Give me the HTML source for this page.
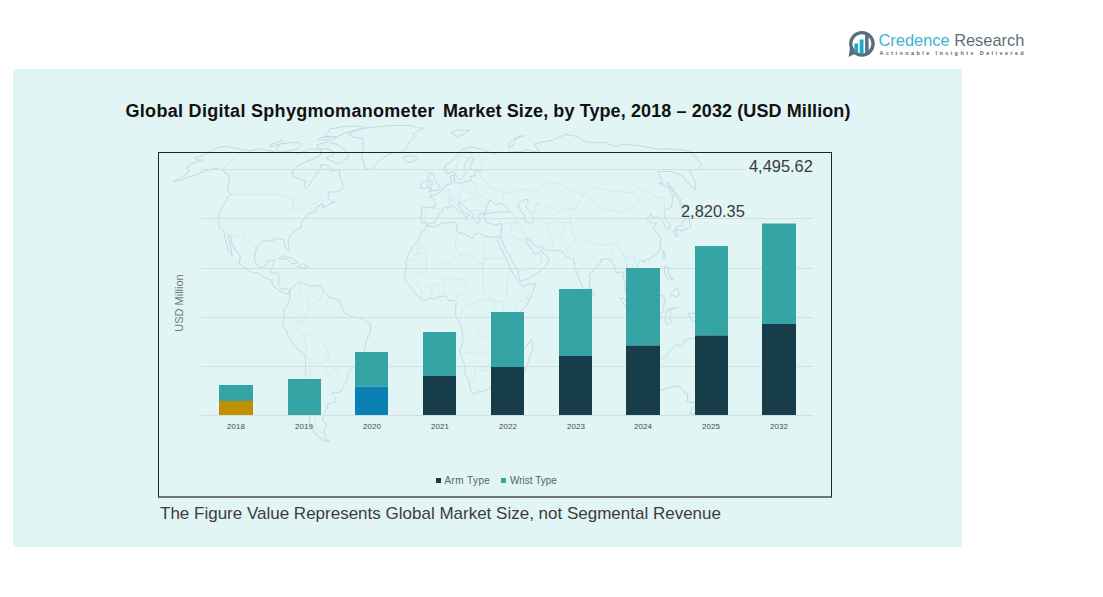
<!DOCTYPE html>
<html><head><meta charset="utf-8">
<style>
html,body{margin:0;padding:0;background:#fff;width:1103px;height:597px;overflow:hidden;position:relative;font-family:"Liberation Sans",sans-serif;}
.a{position:absolute;}
#panel{left:13px;top:69px;width:949px;height:478px;background:#E1F5F5;}
#box{left:158px;top:152px;width:672px;height:343px;border:1px solid #1e2626;border-bottom:2px solid #6E7575;}
.g{position:absolute;left:201px;width:612px;height:1px;background:#D4DFDF;}
.bar{position:absolute;width:34px;}
.t{background:#35A4A4;}
.d{background:#183D4A;}
.yr{position:absolute;top:422px;width:40px;text-align:center;font-size:8px;color:#484C4C;white-space:nowrap;}
.lbl{position:absolute;font-size:16.4px;color:#3A3A3A;white-space:nowrap;line-height:1;}
.tt{top:102px;font-size:18px;font-weight:bold;color:#111;white-space:nowrap;line-height:1;}
#foot{left:160px;top:505px;font-size:17px;color:#3C3C3C;white-space:nowrap;line-height:1;}
#ylab{left:179px;top:303px;font-size:11px;color:#737878;white-space:nowrap;line-height:1;transform:translate(-50%,-50%) rotate(-90deg);}
.leg{position:absolute;top:476px;font-size:10px;color:#5E6262;white-space:nowrap;line-height:1;}
.sq{position:absolute;top:478px;width:5px;height:5px;}
</style></head><body>
<div class="a" id="panel"></div>
<svg class="a" id="map" style="left:0;top:0" width="1103" height="597" viewBox="0 0 1103 597"><g fill="none" stroke-linejoin="round"><path stroke="#BDDCE5" stroke-width="1" d="M194.7 157.8L204.1 154.9L215.4 148.2L225.3 146.3L230.4 147.2L242.6 149.6L249.6 150.8L261.4 148.8L270.5 150.8L277.0 152.9L286.3 151.8L299.2 153.3L309.5 148.8L321.2 149.8L320.1 155.9L310.3 160.1L304.6 162.2L295.1 167.6L291.7 171.9L293.0 176.4L298.0 178.6L305.9 180.8L303.8 186.5L306.9 188.8L311.0 181.9L319.7 169.7L321.1 164.4L328.0 165.4L331.0 168.6L331.0 171.9L339.1 169.1L340.0 178.6L344.6 186.5L337.9 191.7L327.8 192.2L329.5 195.0L327.7 198.0L333.1 202.7L335.2 201.5L328.2 205.0L323.3 207.4L322.5 203.8L316.3 207.4L315.1 211.6L307.3 214.4L303.3 219.2L301.5 222.7L301.4 226.8L298.2 228.7L293.8 232.3L289.4 235.8L288.2 241.8L289.0 247.7L287.6 250.8L285.7 248.9L284.6 244.2L284.0 239.6L279.6 238.7L274.0 238.9L272.6 241.3L269.9 241.1L264.5 240.4L257.6 245.1L255.8 251.3L254.3 257.8L256.7 265.1L259.2 267.5L265.0 266.8L267.6 260.9L274.3 259.7L272.5 266.8L270.0 272.8L278.4 273.2L279.0 277.5L278.3 284.7L282.0 289.5L285.9 288.3L290.0 290.6L288.5 293.7L284.7 293.3L281.0 291.4L274.1 287.1L271.3 279.9L263.8 277.5L258.6 272.8L252.9 272.8L246.8 269.2L239.1 263.2L240.4 256.8L235.6 250.1L232.3 244.2L230.7 236.3L227.8 235.1L230.5 244.2L231.6 253.7L232.7 256.1L228.7 251.8L226.8 244.2L225.2 239.4L224.2 233.4L222.8 229.9L219.5 228.4L218.8 221.5L218.6 214.7L221.4 208.5L226.4 200.8L228.1 195.9L231.7 194.5L227.2 191.1L228.8 181.9L229.5 175.3L225.1 173.0L223.0 170.2L215.7 168.2L205.5 170.8L197.7 174.1L188.2 177.5L178.5 180.8L173.4 181.9L187.9 173.0L189.5 169.9L186.4 168.6L188.6 165.4L194.0 162.6L202.1 160.1L196.5 159.9L194.7 157.8ZM347.7 133.9L360.2 128.9L374.4 127.1L392.5 125.4L409.4 125.4L416.7 127.8L423.6 128.2L412.9 133.9L414.8 136.5L408.4 143.0L407.4 147.8L402.5 151.8L392.5 152.9L382.6 157.8L376.6 163.3L371.7 169.7L364.8 167.6L363.3 161.1L361.6 155.9L363.7 150.8L362.8 146.9L363.3 138.3L353.7 137.4L347.7 133.9ZM341.7 163.3L349.1 155.9L345.4 151.2L342.1 147.2L336.2 144.0L327.0 142.0L316.8 144.9L319.2 148.8L327.4 148.8L333.9 151.8L333.6 154.9L326.1 158.0L331.7 161.1L336.7 162.9L341.7 163.3ZM278.5 146.9L279.6 144.0L289.2 143.0L298.1 142.0L301.6 144.0L298.5 148.8L290.0 150.8L279.3 151.8L275.6 149.8L278.5 146.9ZM324.2 136.5L336.3 137.0L344.8 133.0L354.2 130.3L366.1 127.5L358.2 126.1L344.1 126.5L329.8 128.9L327.7 133.0L324.2 136.5ZM320.7 137.4L336.8 136.5L333.7 140.1L318.3 139.9L320.7 137.4ZM269.8 144.9L281.3 140.5L283.9 143.0L270.2 147.0L269.8 144.9ZM278.2 258.9L284.2 255.8L292.3 258.5L298.0 262.8L291.7 263.7L287.5 258.9L278.2 258.9ZM297.2 267.0L302.1 263.5L308.7 266.6L303.5 268.0L297.2 267.0ZM290.0 290.6L293.7 285.9L300.6 281.6L304.3 283.5L307.9 285.9L315.6 285.9L321.3 285.4L323.0 290.6L328.6 296.6L338.1 299.5L341.8 306.6L344.6 313.3L352.3 316.9L361.0 318.0L370.2 324.0L370.7 332.3L366.2 340.7L363.9 352.6L361.5 360.9L358.9 365.7L354.3 366.4L347.4 372.9L347.4 378.8L344.1 384.8L340.6 391.9L331.7 393.1L335.3 397.9L335.2 401.9L327.6 403.8L327.8 408.5L324.4 412.1L322.4 420.3L326.6 424.5L323.7 431.9L325.8 435.3L324.7 438.7L329.6 441.0L324.0 441.0L315.6 434.2L309.6 422.6L309.2 410.9L306.0 399.1L307.0 387.2L305.7 377.6L305.6 365.7L305.1 355.0L295.4 347.4L290.1 339.5L285.8 330.0L282.3 324.0L283.9 319.2L284.0 313.3L284.3 308.5L286.7 306.6L289.3 301.4L289.9 294.2L290.0 290.6ZM426.9 225.6L433.9 227.2L442.9 223.2L455.4 222.0L457.4 227.5L456.0 230.3L459.3 232.5L465.8 234.6L472.4 238.7L474.0 234.6L479.4 233.2L483.2 235.6L490.6 237.3L496.6 236.5L500.1 236.5L497.3 239.9L499.5 245.4L503.8 253.7L507.3 260.9L510.1 268.0L513.3 274.0L518.3 280.6L519.9 282.8L522.3 286.1L534.9 282.8L534.7 286.1L531.1 296.6L526.5 304.9L519.8 312.1L516.0 315.7L512.7 322.8L512.9 330.0L514.7 335.9L514.5 346.6L507.4 352.6L503.3 359.8L503.8 368.1L498.5 372.6L497.5 378.8L493.4 384.8L487.5 390.3L478.3 391.9L473.6 393.8L470.8 391.9L470.4 387.2L468.0 378.8L465.3 374.1L464.6 364.5L460.1 353.8L459.8 350.9L463.2 339.5L462.3 331.2L460.8 325.2L455.7 316.9L455.7 308.5L456.2 302.6L453.8 300.2L449.0 300.7L446.1 295.9L439.4 296.6L433.7 299.5L429.9 298.5L423.2 300.7L415.5 294.2L411.8 288.3L408.9 284.7L405.6 281.1L404.3 275.9L406.4 264.4L405.6 260.9L409.5 252.5L413.4 245.4L419.1 240.6L419.7 237.0L422.1 231.8L425.2 229.9L426.9 225.6ZM531.3 339.5L533.2 347.8L530.9 353.8L527.4 364.5L525.1 370.5L521.2 371.7L519.2 366.9L519.2 359.8L521.4 351.4L525.2 348.6L528.6 343.1L531.3 339.5ZM427.4 225.1L425.9 222.7L424.1 222.5L421.6 222.7L421.0 218.7L422.1 210.9L421.4 208.5L423.7 206.9L430.6 207.6L434.7 207.6L435.4 204.8L433.8 198.7L429.9 197.1L430.0 195.5L435.0 195.2L437.5 193.4L440.2 192.0L442.4 189.5L444.8 186.5L445.6 184.7L451.2 184.0L451.2 179.7L450.4 176.4L453.9 175.0L454.4 182.2L456.8 182.6L460.9 183.3L466.3 181.3L471.1 180.8L470.7 176.4L475.1 175.9L474.9 171.0L480.5 170.8L483.4 169.7L471.9 169.7L469.9 166.5L473.8 158.6L469.2 157.4L464.4 164.4L464.1 168.6L466.7 170.8L463.4 176.4L459.8 179.7L457.8 178.6L454.6 173.0L452.9 171.9L446.8 174.1L445.1 168.6L445.7 164.4L452.2 161.1L457.3 153.9L459.8 150.8L465.0 148.8L471.4 146.7L480.2 148.8L483.3 150.2L495.5 153.9L499.1 151.8L502.2 152.9L511.7 151.8L520.1 151.8L527.5 149.8L533.4 151.8L539.7 151.8L534.1 144.0L542.7 142.0L550.9 140.7L558.1 137.4L566.0 134.4L575.6 136.2L586.8 142.0L596.4 143.0L604.5 142.0L615.5 146.9L624.1 144.0L640.0 145.9L658.2 149.2L671.4 148.8L684.1 150.0L688.3 151.0L698.0 158.0L697.8 160.1L701.6 164.4L699.5 167.6L697.5 169.7L689.8 169.7L691.3 174.1L693.2 177.5L695.4 183.1L695.6 189.9L685.1 179.7L681.5 175.3L671.7 171.5L657.6 171.3L663.1 183.1L658.3 183.1L668.3 187.6L673.3 195.7L671.2 207.4L665.5 209.7L664.8 213.3L664.4 218.0L670.2 225.1L670.4 227.5L666.3 228.7L662.9 222.7L658.6 216.8L652.9 218.0L651.3 213.7L648.3 217.5L646.7 218.0L646.3 219.2L650.2 222.3L653.9 223.9L656.7 222.7L654.1 227.5L653.6 228.7L658.3 234.6L661.4 238.2L660.2 244.2L659.9 250.1L656.1 254.9L650.1 258.0L644.0 260.9L644.4 263.2L641.0 259.7L637.8 263.2L636.8 266.8L643.7 274.4L645.2 282.3L641.4 286.4L637.4 290.4L637.5 285.9L633.6 284.7L628.9 278.7L627.7 282.3L626.6 287.1L629.4 293.7L635.1 300.2L635.6 307.8L630.8 304.2L625.5 291.8L624.5 282.3L622.3 271.6L616.4 272.8L614.6 265.6L610.1 259.7L606.1 258.5L600.7 259.7L600.2 263.2L596.7 265.6L592.6 271.6L589.4 274.0L589.9 279.9L589.6 286.4L585.4 291.8L583.4 288.3L579.6 280.4L576.6 272.8L574.6 265.6L573.9 259.7L568.5 257.3L566.3 257.3L563.5 253.7L561.3 250.6L553.0 250.8L544.4 249.4L542.2 246.6L538.6 247.3L532.7 244.4L529.4 239.4L525.7 239.4L527.0 243.0L530.3 247.7L533.5 251.3L533.8 253.7L538.3 253.2L541.7 250.1L542.5 252.5L547.6 257.3L549.5 257.3L546.4 265.6L541.4 270.4L536.4 273.7L530.5 277.5L523.0 280.4L520.0 280.6L518.6 275.2L518.0 270.9L511.0 259.7L509.4 254.2L505.3 248.9L501.7 240.6L500.6 236.3L501.1 232.3L501.9 225.6L502.0 223.2L495.9 224.9L492.2 223.9L486.7 222.7L484.1 218.0L483.8 214.9L488.0 213.3L491.8 212.8L500.4 211.6L510.1 212.1L506.7 207.4L502.9 205.0L500.0 203.1L495.2 205.0L492.0 200.8L489.3 200.3L488.1 203.8L486.9 206.2L486.0 210.9L486.6 213.3L483.5 213.7L478.0 214.4L480.2 220.4L477.8 223.9L474.9 220.4L472.9 216.8L471.6 212.1L465.2 207.4L461.0 203.4L458.6 203.1L459.1 206.2L461.9 210.4L465.9 213.3L470.1 215.1L466.7 216.8L466.0 220.4L465.4 215.6L459.3 211.4L455.7 208.5L452.7 205.2L450.5 206.7L447.9 208.3L444.4 207.4L442.9 210.0L443.1 211.1L438.9 213.3L437.5 216.8L436.6 219.6L433.9 223.2L429.4 223.4L427.4 225.1ZM518.2 203.8L522.5 200.3L527.3 199.2L528.2 202.7L525.5 206.2L529.2 211.4L532.2 214.4L533.9 221.5L529.7 223.2L525.0 221.5L524.9 215.6L520.4 210.9L518.2 203.8ZM428.0 192.2L432.5 190.8L439.8 189.5L440.3 186.0L437.8 184.2L435.1 179.7L434.4 176.4L434.7 175.0L431.2 175.0L432.9 172.8L429.8 172.8L427.8 175.3L428.8 178.6L429.8 181.3L432.7 181.0L432.0 183.1L432.6 184.7L429.9 185.8L430.6 187.2L428.8 188.1L432.2 189.0L429.6 189.9L428.0 192.2ZM427.7 187.2L427.7 183.5L428.7 181.5L425.9 180.1L423.9 181.9L421.3 184.2L420.6 188.1L424.4 188.6L427.7 187.2ZM402.8 158.0L406.0 156.1L414.6 155.9L416.5 158.0L415.5 160.5L410.1 162.4L404.4 161.6L402.8 158.0ZM450.9 133.0L456.5 130.3L469.6 130.3L464.5 133.9L457.6 136.5L450.9 133.0ZM508.2 146.9L509.8 142.0L516.2 137.4L523.7 135.6L514.9 139.2L513.1 145.9L508.2 146.9ZM674.7 229.9L677.1 226.3L682.2 225.8L682.6 222.7L685.4 219.2L683.6 214.0L685.4 212.5L688.7 216.8L689.8 222.7L691.1 226.3L688.4 228.4L685.1 229.2L682.5 230.8L677.4 229.4L674.7 229.9ZM682.5 212.1L679.4 202.9L688.6 206.2L687.1 210.9L682.5 212.1ZM673.3 231.5L675.8 229.9L678.5 235.8L676.0 236.5L673.3 231.5ZM679.7 201.5L681.4 200.3L675.2 192.2L667.1 182.4L667.6 184.2L673.5 192.2L679.7 201.5ZM662.4 256.6L663.8 250.8L664.9 253.7L663.9 258.7L662.4 256.6ZM590.0 295.4L590.0 287.5L593.9 293.0L592.3 296.6L590.0 295.4ZM664.6 272.8L664.7 266.8L668.1 266.8L668.4 272.8L673.1 279.9L666.4 277.5L664.6 272.8ZM670.5 294.2L673.1 290.6L677.8 288.3L679.2 295.4L676.4 297.1L670.5 294.2ZM619.7 297.8L623.9 298.5L629.8 306.1L637.6 313.3L640.3 318.0L639.7 324.7L637.2 325.0L632.6 320.4L628.9 313.3L626.0 307.3L619.7 297.8ZM638.4 327.1L643.9 325.7L649.6 326.4L656.1 329.3L655.8 331.6L649.3 330.7L640.8 328.5L638.4 327.1ZM646.1 307.3L650.0 306.4L654.7 303.8L659.1 295.4L662.4 295.6L665.1 299.0L663.4 308.5L662.5 310.9L660.5 315.7L659.4 320.0L656.5 320.0L650.8 318.0L648.0 315.2L646.2 312.1L646.1 307.3ZM665.9 324.0L665.2 318.0L667.3 309.7L673.0 308.5L676.8 307.3L669.2 310.2L671.1 313.3L669.1 316.9L671.8 321.6L668.8 324.0L665.9 324.0ZM688.3 313.3L694.0 313.3L701.7 314.5L707.3 317.1L714.8 321.6L719.4 325.2L723.3 335.9L717.7 334.7L711.2 332.3L706.4 332.3L700.9 330.0L700.4 322.8L691.9 320.4L688.3 313.3ZM650.2 363.3L649.3 372.9L648.9 382.4L645.9 391.9L650.5 394.3L656.9 391.5L663.0 389.5L673.3 386.2L677.0 386.0L681.6 388.4L685.7 394.3L688.0 393.1L687.1 401.0L693.4 402.6L697.2 403.8L705.3 400.3L713.0 389.5L721.2 377.6L722.6 370.5L718.6 363.3L712.8 355.0L713.0 346.6L709.9 344.3L708.9 336.6L706.5 341.9L705.3 349.0L701.8 352.8L695.3 346.6L697.7 339.5L689.7 338.3L684.6 340.7L682.1 346.6L676.6 344.3L669.0 351.4L665.3 357.4L657.3 360.2L650.2 363.3ZM691.9 407.8L697.9 408.3L694.4 413.3L690.1 414.7L691.9 407.8Z"/><path stroke="#CFE7EC" stroke-width="0.8" d="M231.7 194.5L278.6 194.5L279.1 195.2L286.8 196.8L293.9 200.3L292.6 210.9L300.6 207.8L306.5 205.7L309.6 203.8L315.6 203.8L320.9 198.2L322.7 198.9L322.5 203.8M242.6 149.6L222.3 169.3M224.2 233.4L228.7 233.0L234.4 236.3L239.5 236.3L243.0 235.1L245.1 240.6L247.6 241.8L250.8 239.9L253.3 245.4L256.8 249.2M483.2 235.6L484.5 263.2L482.6 263.2L482.7 264.4L467.4 254.9L459.9 254.9L455.1 247.7L455.9 239.4L458.4 232.3M421.4 245.8L428.6 251.3L439.4 260.9L445.0 265.4L459.9 254.9M405.6 260.1L413.1 260.1L413.2 256.1L415.1 254.9L421.4 245.8M415.1 254.9L426.3 252.5L426.2 263.2L427.1 271.6L414.7 275.6M482.6 263.2L483.3 290.6L489.1 299.0L496.8 301.8L502.5 300.7L506.3 296.6L507.7 277.5L510.1 268.0M484.3 258.5L506.5 258.5M461.4 322.8L468.1 325.2L475.7 327.6L479.4 337.1L485.1 338.3L491.9 331.2L494.9 320.4L494.0 314.5L494.9 306.1L491.1 300.2L483.4 299.0L472.9 302.6L468.1 306.1L464.3 306.1L460.5 313.3L461.4 322.8M459.8 352.1L476.2 353.6L484.7 352.6L494.3 347.8L499.9 351.4L497.4 364.5L489.9 364.5L485.9 370.5L474.8 370.0L474.4 378.8L468.0 378.8M519.4 284.7L529.1 291.8L527.4 299.0L515.9 301.4L515.6 314.5L516.9 315.0M502.6 313.3L509.3 318.0L512.5 322.1M494.9 314.5L502.6 313.3L502.5 300.7M442.7 295.9L444.2 283.5L445.1 278.7L454.6 280.4L463.1 279.4L465.1 282.3L466.1 287.1L462.3 294.2L458.5 295.4L453.9 299.9M427.4 286.4L441.3 283.5L445.1 278.7M431.8 299.0L432.2 285.2M439.0 296.6L438.5 284.7M421.2 300.2L422.2 291.8L416.6 281.8M434.4 207.8L443.1 210.0M424.6 222.3L425.3 210.9M441.6 189.9L447.5 193.4L450.9 194.5L450.2 198.0L448.1 201.0L449.6 206.2M447.2 184.4L448.6 189.9L447.5 193.4M460.6 184.2L462.2 189.9M457.4 191.5L460.6 195.2L459.5 198.0L454.4 198.0L450.2 198.0M449.6 206.2L449.4 201.5L455.3 200.1L460.4 200.3L460.9 202.4M462.2 189.9L468.8 193.4L475.1 194.5L477.2 191.1L476.0 187.6L475.4 183.5L471.1 180.8M480.5 170.8L480.5 175.3L481.9 178.6L487.5 183.1L489.9 187.6L495.0 188.8L504.2 193.4L501.9 199.2M475.1 194.5L482.0 196.2L488.5 200.3M460.9 202.4L465.5 200.3L475.3 196.4L484.1 206.2L486.9 206.9M471.6 211.4L476.7 209.7L483.9 212.1L486.4 210.9M480.3 169.7L482.5 165.4L479.5 154.9L477.2 150.8L477.4 148.8M456.0 171.9L456.3 166.5L458.1 161.1L460.3 154.9L465.3 150.8L471.1 151.8L473.4 149.4M472.1 157.4L470.6 152.9L466.7 150.8M501.9 199.2L504.2 193.4L515.6 192.2L521.3 188.8L528.6 191.1L538.1 189.9L543.5 181.9L551.9 183.1L560.0 183.1L569.5 189.9L583.0 194.5L589.8 191.1L597.9 187.6L613.3 191.5L627.0 192.2L632.1 184.9L649.3 193.4L658.8 198.0L663.1 196.8L664.9 208.5L664.9 210.0M530.3 212.1L535.6 212.5L536.7 202.7L544.8 207.4L552.1 208.5L558.6 213.3L561.1 209.7L566.8 208.5L576.5 209.0L577.8 202.7L582.4 199.2L583.0 194.5M570.8 222.7L570.2 216.8L576.5 209.0M584.4 194.5L592.7 201.5L604.3 209.0L621.3 212.1L630.2 208.5L636.6 203.8L640.9 199.9L633.9 193.4L627.0 192.2M570.8 222.7L576.2 226.3L581.2 232.3L586.4 239.4L600.4 245.4L607.6 244.6L616.8 244.2L620.1 251.3L626.8 258.5L635.8 256.6L640.1 259.7M570.8 222.7L572.1 232.3L575.4 239.4L568.9 245.4L567.1 252.5L565.4 254.2M515.3 216.8L520.5 227.5L526.7 239.4M546.9 223.9L550.0 235.8L553.5 240.6L552.2 250.8M546.9 223.9L555.3 221.5L565.4 222.7L570.8 222.7M568.9 245.4L564.5 240.6L560.2 237.0L564.3 229.9L565.4 222.7M510.1 212.1L516.2 216.8L516.1 222.3L512.6 222.5L502.9 223.9M505.2 240.6L507.0 235.8L514.4 236.5L524.1 241.8L527.1 244.2M508.7 234.6L512.6 222.5M518.8 270.4L526.3 270.4L535.5 265.6L541.0 263.2L542.0 257.3L541.9 252.5M611.2 260.9L612.6 251.3L616.8 244.2M620.1 251.3L626.9 259.7L626.2 268.0L623.9 272.8L625.3 287.1M633.9 256.1L634.8 262.0L631.8 268.0L637.6 276.3L637.5 285.9M625.6 263.2L630.0 268.0L633.0 277.5M322.8 299.0L315.1 301.4L309.2 307.3L304.6 320.4L298.1 328.8L303.1 334.7L311.7 334.0L322.7 343.8L327.8 350.2L328.4 358.6L334.5 364.5L336.1 371.9L338.3 375.2L331.9 382.9L340.5 391.2M309.1 363.3L310.5 375.2L310.2 389.5L311.3 406.2L315.5 422.6L316.2 429.6L325.6 434.8M304.6 320.4L294.1 322.8L288.2 315.7L283.9 319.2M303.1 334.7L306.7 346.6L305.4 353.8L310.1 363.3L320.4 363.3L328.4 358.6M300.6 282.3L299.0 294.2L308.5 296.6L309.2 307.3M286.7 306.6L292.9 310.9L303.6 320.4M323.0 290.6L320.8 299.0L322.8 299.0M328.6 296.6L326.5 306.1M334.3 297.8L334.1 306.1M320.4 363.3L325.5 368.1L330.0 375.2L336.1 371.9"/></g></svg>
<div class="a" id="box"></div>
<div class="g" style="top:169px"></div>
<div class="g" style="top:218px"></div>
<div class="g" style="top:268px"></div>
<div class="g" style="top:317px"></div>
<div class="g" style="top:366px"></div>
<div class="g" style="top:415px"></div>

<!-- bars -->
<svg class="a" style="left:0;top:0" width="1103" height="597" viewBox="0 0 1103 597">
<rect x="219" y="385" width="34" height="16" fill="#35A4A4"/>
<rect x="219" y="401" width="34" height="14" fill="#BF9000"/>
<rect x="288" y="379" width="33" height="36" fill="#35A4A4"/>
<rect x="355" y="352" width="33" height="34.5" fill="#35A4A4"/>
<rect x="355" y="386.5" width="33" height="28.5" fill="#0A80B4"/>
<rect x="423" y="332" width="33" height="44" fill="#35A4A4"/>
<rect x="423" y="376" width="33" height="39" fill="#183D4A"/>
<rect x="491" y="312" width="33" height="55" fill="#35A4A4"/>
<rect x="491" y="367" width="33" height="48" fill="#183D4A"/>
<rect x="559" y="289" width="33" height="67" fill="#35A4A4"/>
<rect x="559" y="356" width="33" height="59" fill="#183D4A"/>
<rect x="626" y="268" width="34" height="77.5" fill="#35A4A4"/>
<rect x="626" y="345.5" width="34" height="69.5" fill="#183D4A"/>
<rect x="695" y="246" width="33" height="89.5" fill="#35A4A4"/>
<rect x="695" y="335.5" width="33" height="79.5" fill="#183D4A"/>
<rect x="762" y="223.5" width="34" height="100.5" fill="#35A4A4"/>
<rect x="762" y="324" width="34" height="91" fill="#183D4A"/>
</svg>
<div class="yr" style="left:216px">2018</div>
<div class="yr" style="left:284px">2019</div>
<div class="yr" style="left:352px">2020</div>
<div class="yr" style="left:420px">2021</div>
<div class="yr" style="left:488px">2022</div>
<div class="yr" style="left:556px">2023</div>
<div class="yr" style="left:623px">2024</div>
<div class="yr" style="left:691px">2025</div>
<div class="yr" style="left:759px">2032</div>

<div class="lbl" style="left:749px;top:158px;background:#E1F5F5;padding-left:3px;margin-left:-3px">4,495.62</div>
<div class="lbl" style="left:681px;top:203px">2,820.35</div>

<div class="a" id="ylab">USD Million</div>

<div class="sq" style="left:436px;background:#183D4A"></div>
<div class="leg" style="left:444.5px;letter-spacing:0.4px">Arm Type</div>
<div class="sq" style="left:501px;background:#35A4A4"></div>
<div class="leg" style="left:510px">Wrist Type</div>

<div class="a tt" style="left:125.5px;letter-spacing:0.3px">Global Digital Sphygmomanometer</div><div class="a tt" style="left:443px;letter-spacing:0.1px">Market Size, by Type, 2018 – 2032 (USD Million)</div>
<div class="a" id="foot">The Figure Value Represents Global Market Size, not Segmental Revenue</div>


<svg class="a" style="left:840px;top:24px" width="44" height="40" viewBox="840 24 44 40">
  <circle cx="861.9" cy="43.8" r="11.15" fill="none" stroke="#5B6E7E" stroke-width="3.4"/>
  <path d="M848.7 56.9 L850.0 47.0 L855.8 53.2 Z" fill="#5B6E7E"/>
  <rect x="865.1" y="34" width="3.5" height="19.5" fill="#5B6E7E"/>
  <rect x="854.4" y="43.5" width="3.7" height="8.8" fill="#1BA8C9"/>
  <rect x="859.7" y="39.5" width="3.8" height="14.6" fill="#1BA8C9"/>
</svg>
<div class="a" style="left:878.5px;top:31.5px;font-size:16.4px;line-height:1;white-space:nowrap;color:#3BB5D0">Credence <span style="color:#5F6F7A">Research</span></div>
<div class="a" style="left:879.5px;top:50.5px;font-size:5.5px;font-weight:bold;line-height:1;white-space:nowrap;color:#5A6670;letter-spacing:2.4px">Actionable Insights Delivered</div>
</body></html>
